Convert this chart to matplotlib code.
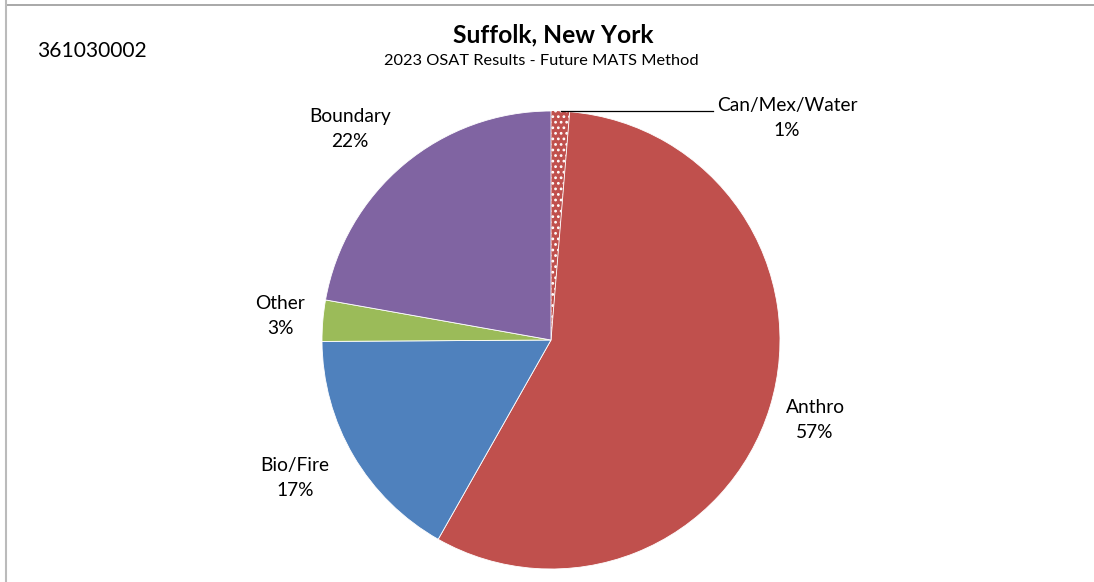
import numpy as np
import matplotlib.pyplot as plt
from matplotlib.lines import Line2D

# slice data, clockwise from 12 o'clock
sources = ['Can/Mex/Water', 'Anthro', 'Bio/Fire', 'Other', 'Boundary']
shares = [1.3, 56.9, 16.7, 2.9, 22.2]
colours = ['#C0504D', '#C0504D', '#4F81BD', '#9BBB59', '#8064A2']
site_id = '361030002'
title = 'Suffolk, New York'
subtitle = '2023 OSAT Results - Future MATS Method'

plt.rcParams['font.family'] = ['Lato', 'DejaVu Sans']
plt.rcParams['hatch.linewidth'] = 1.2

W, H = 1094, 582
fig = plt.figure(figsize=(W / 100, H / 100), dpi=100)

# pie centre and radius in pixels
cx, cy, r = 551, 340, 229
ax = fig.add_axes([(cx - r) / W, (H - cy - r) / H, 2 * r / W, 2 * r / H])
wedges, _ = ax.pie(shares, colors=colours, startangle=90, counterclock=False,
                   wedgeprops=dict(linewidth=0.6, edgecolor='white'))
ax.set_xlim(-1, 1)
ax.set_ylim(-1, 1)
ax.set_aspect('equal')

# dotted pattern on the first slice
wedges[0].set_hatch('...')
wedges[0].set_edgecolor('white')
wedges[0].set_linewidth(0)

# label positions in pixels (centre of the two-line text)
label_pos = [(787, 118), (815, 420), (295, 478), (280, 316), (350, 129)]
total = sum(shares)
for name, val, (px, py) in zip(sources, shares, label_pos):
    fig.text(px / W, 1 - py / H, '%s\n%d%%' % (name, round(val / total * 100)),
             ha='center', va='center', fontsize=13.8, linespacing=1.55)

# leader line for the small slice
fig.add_artist(Line2D([561 / W, 713 / W], [1 - 111 / H, 1 - 111 / H],
                      color='black', linewidth=0.9))

fig.text(553 / W, 1 - 35 / H, title, ha='center', va='center',
         fontsize=17.7, fontweight='bold')
fig.text(541 / W, 1 - 61 / H, subtitle, ha='center', va='center', fontsize=11.8)
fig.text(92 / W, 1 - 51 / H, site_id, ha='center', va='center', fontsize=15.1)

# chart border (top and left edges visible)
fig.add_artist(Line2D([6 / W, 1], [1 - 5 / H, 1 - 5 / H], color='#999999', linewidth=1.2))
fig.add_artist(Line2D([6 / W, 6 / W], [0, 1], color='#bbbbbb', linewidth=1.5))

fig.savefig('out.png', dpi=100)
